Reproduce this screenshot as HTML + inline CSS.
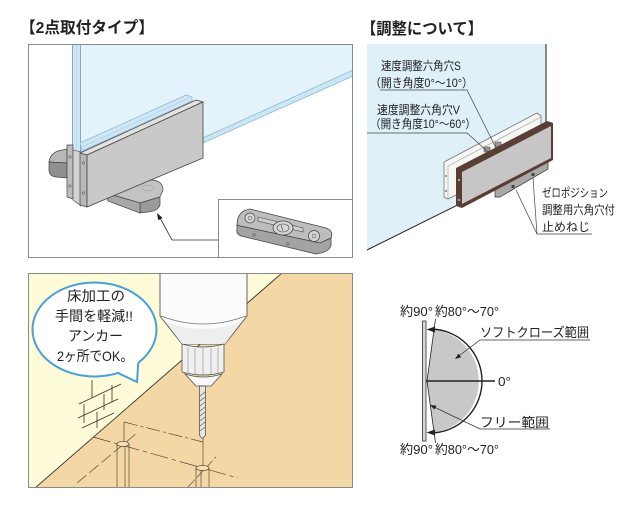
<!DOCTYPE html>
<html><head><meta charset="utf-8"><style>
html,body{margin:0;padding:0;background:#fff;width:640px;height:513px;overflow:hidden}
svg{display:block}
text{font-family:"Liberation Sans","Noto Sans CJK JP",sans-serif;fill:#222}
</style></head><body>
<svg width="640" height="513" viewBox="0 0 640 513" xmlns="http://www.w3.org/2000/svg">
<defs>
<clipPath id="c1"><rect x="28.5" y="44.5" width="324" height="213"/></clipPath>
<clipPath id="c3"><rect x="28.5" y="273.5" width="324" height="214"/></clipPath>
</defs>

<!-- ===== Titles ===== -->
<text x="20" y="33" font-size="16" font-weight="bold" textLength="134" lengthAdjust="spacingAndGlyphs">【2点取付タイプ】</text>
<text x="361" y="34" font-size="16" font-weight="bold" textLength="122" lengthAdjust="spacingAndGlyphs">【調整について】</text>

<!-- ===== Top-left panel ===== -->
<rect x="28.5" y="44.5" width="324" height="213" fill="#fff"/>
<g clip-path="url(#c1)">
  <!-- glass face -->
  <polygon points="81,44 353,44 353,70 203,138 81,194" fill="#e4f3fb"/>
  <!-- glass bottom edge strip -->
  <polygon points="203,138 353,70 353,76 203,143" fill="#cbe6f4" stroke="#7fb3cf" stroke-width="0.7"/>
  <!-- glass vertical edge -->
  <rect x="72.5" y="40" width="8" height="112" fill="#cfe8f5" stroke="#6f95aa" stroke-width="0.8"/>
  <line x1="76.5" y1="40" x2="76.5" y2="150" stroke="#a9d2e8" stroke-width="0.6"/>

  <!-- left floor piece -->
  <path d="M67,149 L58,151 Q50,154 49,162 L67,163 Z" fill="#b9b9b9" stroke="#444" stroke-width="0.7"/>
  <path d="M49,162 L67,163 L67,178 L56,177 Q49,176 49,170 Z" fill="#8f8f8f" stroke="#444" stroke-width="0.7"/>

  <!-- bottom floor plate -->
  <path d="M106,193 L150,180 Q163,180 163,190 L160,197 L140,203 Z" fill="#c3c3c3" stroke="#444" stroke-width="0.7"/>
  <path d="M140,203 L160,197 L160,205 Q158,211 148,212 L140,213 Z" fill="#9a9a9a" stroke="#444" stroke-width="0.7"/>
  <path d="M106,193 L140,203 L140,213 L108,201 Z" fill="#a8a8a8" stroke="#444" stroke-width="0.7"/>
  <ellipse cx="148" cy="188" rx="6" ry="3" fill="none" stroke="#999" stroke-width="0.5"/>

  <!-- back plate (through glass) -->
  <polygon points="80,143 186,95 192,97 192,101 82,151" fill="#cfe7f4" stroke="#86b6d0" stroke-width="0.7"/>
  <line x1="82" y1="147" x2="189" y2="98" stroke="#9cc5db" stroke-width="0.5"/>
  <!-- back plate edge -->
  <polygon points="67,145 73,145 73,199 67,197" fill="#bdbdbd" stroke="#444" stroke-width="0.7"/>
  <circle cx="70" cy="157" r="1.2" fill="none" stroke="#444" stroke-width="0.5"/>
  <circle cx="70" cy="186" r="1.2" fill="none" stroke="#444" stroke-width="0.5"/>
  <polygon points="73,150 81,152 81,206 73,200" fill="#d2d2d2" stroke="#444" stroke-width="0.6"/>

  <!-- front clamp -->
  <polygon points="80,153 196,100 203,102 87,155" fill="#e2e2e2" stroke="#444" stroke-width="0.7"/>
  <polygon points="80,153 87,155 87,207 80,205" fill="#b8b8b8" stroke="#444" stroke-width="0.7"/>
  <polygon points="87,155 203,102 203,158 87,207" fill="#c9c9c9" stroke="#444" stroke-width="0.8"/>
  <circle cx="83.5" cy="163" r="1.2" fill="none" stroke="#444" stroke-width="0.5"/>
  <circle cx="83.5" cy="193" r="1.2" fill="none" stroke="#444" stroke-width="0.5"/>

  <!-- arrow -->
  <polyline points="218,240 172,240 159,216" fill="none" stroke="#333" stroke-width="0.8"/>
  <polygon points="157,213 162.6,217.9 158.2,220.3" fill="#222"/>

  <!-- inset -->
  <rect x="218.5" y="199.5" width="140" height="70" fill="#fff" stroke="#8a8a8a" stroke-width="1"/>
  <path d="M237,225 Q237,211 250,209 L326,228 Q334,231 331,238 L320,243 L240,226 Z" fill="#bdbdbd" stroke="#444" stroke-width="0.8"/>
  <path d="M237,225 L240,226 L320,243 L331,238 L331,245 Q330,252 316,254 L241,236 Q236,234 237,229 Z" fill="#a3a3a3" stroke="#444" stroke-width="0.8"/>
  <polygon points="258,217 303,228 303,232 258,221" fill="#d0d0d0" stroke="#444" stroke-width="0.6"/>
  <circle cx="250" cy="218" r="5" fill="#d6d6d6" stroke="#444" stroke-width="0.7"/>
  <circle cx="250" cy="218" r="2" fill="none" stroke="#444" stroke-width="0.5"/>
  <ellipse cx="283" cy="228" rx="10" ry="7" fill="#d6d6d6" stroke="#444" stroke-width="0.8"/>
  <ellipse cx="283" cy="228" rx="6" ry="4" fill="none" stroke="#444" stroke-width="0.6"/>
  <line x1="281" y1="225" x2="283" y2="231" stroke="#444" stroke-width="0.6"/>
  <circle cx="314" cy="236" r="5.5" fill="#d6d6d6" stroke="#444" stroke-width="0.7"/>
  <circle cx="314" cy="236" r="2" fill="none" stroke="#444" stroke-width="0.5"/>
  <circle cx="254" cy="235" r="1.3" fill="none" stroke="#444" stroke-width="0.5"/>
  <circle cx="288" cy="244" r="1.3" fill="none" stroke="#444" stroke-width="0.5"/>
</g>
<rect x="28.5" y="44.5" width="324" height="213" fill="none" stroke="#8a8a8a" stroke-width="1"/>

<!-- ===== Top-right panel ===== -->
<polygon points="367,44 546,44 546,161 367,250" fill="#dff0f9"/>
<line x1="546" y1="44" x2="546" y2="161" stroke="#222" stroke-width="1"/>
<line x1="367" y1="250" x2="546" y2="161" stroke="#222" stroke-width="1"/>

<!-- back plate -->
<polygon points="444,162 537,113 541,116 541,152 448,199 444,197" fill="#f6f6f6" stroke="#777" stroke-width="0.8"/>
<polyline points="448,199 448,166 541,117" fill="none" stroke="#999" stroke-width="0.6"/>
<circle cx="446" cy="176" r="0.9" fill="#555"/>
<circle cx="446" cy="191" r="0.9" fill="#555"/>
<!-- adjust holes -->
<rect x="484" y="147" width="6" height="5" fill="#999" stroke="#444" stroke-width="0.5"/>
<rect x="495" y="142" width="6" height="5" fill="#999" stroke="#444" stroke-width="0.5"/>
<!-- bottom bracket -->
<polygon points="495,186 548,159 548,169 500,197 495,197" fill="#a9a9a9" stroke="#333" stroke-width="0.7"/>
<rect x="511.5" y="185" width="3" height="3" fill="#444"/>
<rect x="531.5" y="173" width="3" height="3" fill="#444"/>
<!-- front plate -->
<polygon points="456,168 547,121 553,123 553,160 462,208 456,206" fill="#5a3d33"/>
<polygon points="462,172 551,126 551,158 462,204" fill="#c6c6c6"/>
<circle cx="459" cy="180" r="0.9" fill="#eee"/>
<circle cx="459" cy="200" r="0.9" fill="#eee"/>

<!-- labels top-right -->
<text x="381" y="70" font-size="12" textLength="80" lengthAdjust="spacingAndGlyphs">速度調整六角穴S</text>
<text x="370" y="87" font-size="12" textLength="103" lengthAdjust="spacingAndGlyphs">（開き角度0°～10°）</text>
<polyline points="380,90 467,90 497,150" fill="none" stroke="#444" stroke-width="0.7"/>
<text x="377" y="114" font-size="12" textLength="83" lengthAdjust="spacingAndGlyphs">速度調整六角穴V</text>
<text x="370" y="128" font-size="12" textLength="106" lengthAdjust="spacingAndGlyphs">（開き角度10°～60°）</text>
<polyline points="367,133 467,133 488,152" fill="none" stroke="#444" stroke-width="0.7"/>

<text x="542" y="197" font-size="12" textLength="66" lengthAdjust="spacingAndGlyphs">ゼロポジション</text>
<text x="542" y="214" font-size="12" textLength="73" lengthAdjust="spacingAndGlyphs">調整用六角穴付</text>
<text x="542" y="231" font-size="12" textLength="48" lengthAdjust="spacingAndGlyphs">止めねじ</text>
<polyline points="516,190 537,234 592,234" fill="none" stroke="#444" stroke-width="0.7"/>
<line x1="533" y1="178" x2="537" y2="234" stroke="#444" stroke-width="0.7"/>

<!-- ===== Bottom-left panel ===== -->
<g clip-path="url(#c3)">
  <rect x="28" y="273" width="326" height="216" fill="#f3d7a5"/>
  <polygon points="28,273 282,273 35,488 28,488" fill="#fefbd8"/>
  <line x1="282" y1="273" x2="35" y2="488" stroke="#333" stroke-width="0.9"/>

  <!-- bricks -->
  <g stroke="#333" stroke-width="0.8" fill="none">
    <line x1="79" y1="404" x2="121" y2="384"/>
    <line x1="78" y1="418" x2="118" y2="399"/>
    <line x1="82" y1="428" x2="114" y2="413"/>
    <line x1="92" y1="380" x2="92" y2="398"/>
    <line x1="112" y1="385" x2="112" y2="402"/>
    <line x1="104" y1="394" x2="104" y2="410"/>
    <line x1="84" y1="404" x2="84" y2="423"/>
    <line x1="97" y1="412" x2="97" y2="428"/>
  </g>

  <!-- construction lines -->
  <g stroke="#5a4a35" stroke-width="0.7" fill="none">
    <line x1="124" y1="422" x2="124" y2="444"/>
    <line x1="124" y1="422" x2="203" y2="442" stroke-dasharray="14,3,3,3"/>
    <line x1="203" y1="438" x2="203" y2="468"/>
    <line x1="93" y1="437" x2="238" y2="478" stroke-dasharray="18,4,4,4"/>
    <line x1="77" y1="483" x2="137" y2="433" stroke-dasharray="12,4"/>
    <line x1="188" y1="487" x2="216" y2="457" stroke-dasharray="10,3"/>
    <line x1="117" y1="444" x2="117" y2="490"/>
    <line x1="125" y1="446" x2="125" y2="490"/>
    <line x1="129" y1="444" x2="129" y2="490"/>
    <line x1="196" y1="468" x2="196" y2="490"/>
    <line x1="201" y1="470" x2="201" y2="490"/>
    <line x1="209" y1="468" x2="209" y2="490"/>
    <ellipse cx="123" cy="444" rx="6" ry="2.6" fill="#f6e0b6"/>
    <ellipse cx="202.5" cy="468" rx="6.5" ry="2.6" fill="#f6e0b6"/>
  </g>

  <!-- drill -->
  <path d="M160,270 V316 L182,344 L225,344 L247,316 V270 Z" fill="#fbfbfb" stroke="#555" stroke-width="0.9"/>
  <path d="M161,316 Q203,332 246,316" fill="none" stroke="#777" stroke-width="0.8"/>
  <path d="M166,322 Q203,336 241,322 L225,344 L182,344 Z" fill="#eeeeee" stroke="none"/>
  <path d="M182,344 V372 Q203,378 224,372 V344 Q203,350 182,344 Z" fill="#f0f0f0" stroke="#555" stroke-width="0.8"/>
  <g stroke="#888" stroke-width="0.6">
    <line x1="188" y1="347" x2="188" y2="374"/>
    <line x1="195" y1="348" x2="195" y2="375"/>
    <line x1="203" y1="348" x2="203" y2="376"/>
    <line x1="211" y1="348" x2="211" y2="375"/>
    <line x1="218" y1="347" x2="218" y2="374"/>
  </g>
  <path d="M185,374 Q203,380 222,374 L211,386 L196,386 Z" fill="#f8f8f8" stroke="#555" stroke-width="0.8"/>
  <path d="M199.5,386 V435 Q202.5,441 205.5,435 V386 Z" fill="#e6e6e6" stroke="#444" stroke-width="0.7"/>
  <g stroke="#555" stroke-width="0.6">
    <line x1="200" y1="396" x2="205" y2="392"/>
    <line x1="200" y1="401" x2="205" y2="397"/>
    <line x1="200" y1="406" x2="205" y2="402"/>
    <line x1="200" y1="411" x2="205" y2="407"/>
    <line x1="200" y1="416" x2="205" y2="412"/>
    <line x1="200" y1="421" x2="205" y2="417"/>
    <line x1="200" y1="426" x2="205" y2="422"/>
    <line x1="200" y1="431" x2="205" y2="427"/>
  </g>

  <!-- speech bubble -->
  <ellipse cx="94.5" cy="329.5" rx="62" ry="47" fill="#fff" stroke="#4a9fd8" stroke-width="2"/>
  <polygon points="117,371 137,382 138,361" fill="#fff"/>
  <polyline points="118,373 137,382 138.3,362.7" fill="none" stroke="#4a9fd8" stroke-width="2" stroke-linejoin="miter"/>
  <text x="67" y="301" font-size="14" textLength="58" lengthAdjust="spacingAndGlyphs">床加工の</text>
  <text x="55" y="321" font-size="14" textLength="78" lengthAdjust="spacingAndGlyphs">手間を軽減!!</text>
  <text x="68" y="341" font-size="14" textLength="55" lengthAdjust="spacingAndGlyphs">アンカー</text>
  <text x="57" y="361" font-size="14" textLength="76" lengthAdjust="spacingAndGlyphs">2ヶ所でOK。</text>
</g>
<rect x="28.5" y="273.5" width="324" height="214" fill="none" stroke="#8a8a8a" stroke-width="1"/>

<!-- ===== Bottom-right diagram ===== -->
<path d="M427,381 L434,329.5 A52,52 0 0 1 434,432.5 Z" fill="#c8c8c8"/>
<rect x="422.5" y="321" width="3.5" height="120" fill="#d8d8d8" stroke="#333" stroke-width="0.8"/>
<line x1="426" y1="381" x2="495" y2="381" stroke="#222" stroke-width="1.4"/>
<line x1="427" y1="381" x2="435.5" y2="319" stroke="#222" stroke-width="0.8"/>
<line x1="427" y1="381" x2="435.5" y2="443" stroke="#222" stroke-width="0.8"/>
<path d="M430,329 A52,52 0 0 1 430,433" fill="none" stroke="#222" stroke-width="1.4"/>
<polygon points="426.5,329.5 435,326.5 435,332.5" fill="#222"/>
<polygon points="426.5,432.5 435,429.5 435,435.5" fill="#222"/>

<text x="400" y="316" font-size="13" textLength="33" lengthAdjust="spacingAndGlyphs">約90°</text>
<text x="435" y="316" font-size="13" textLength="64" lengthAdjust="spacingAndGlyphs">約80°～70°</text>
<text x="400" y="454" font-size="13" textLength="33" lengthAdjust="spacingAndGlyphs">約90°</text>
<text x="435" y="454" font-size="13" textLength="64" lengthAdjust="spacingAndGlyphs">約80°～70°</text>
<text x="498" y="386" font-size="13" textLength="13" lengthAdjust="spacingAndGlyphs">0°</text>

<text x="480" y="337" font-size="13" textLength="109" lengthAdjust="spacingAndGlyphs">ソフトクローズ範囲</text>
<polyline points="590,340 480,340 458,356.5" fill="none" stroke="#333" stroke-width="0.7"/>
<polygon points="455,359 461.1,357.2 458.5,353.6" fill="#222"/>
<text x="480" y="427" font-size="13" textLength="69" lengthAdjust="spacingAndGlyphs">フリー範囲</text>
<polyline points="550,429 480,429 433,406.5" fill="none" stroke="#333" stroke-width="0.7"/>
<polygon points="430,405 436.4,405.6 434.4,409.6" fill="#222"/>
</svg>
</body></html>
